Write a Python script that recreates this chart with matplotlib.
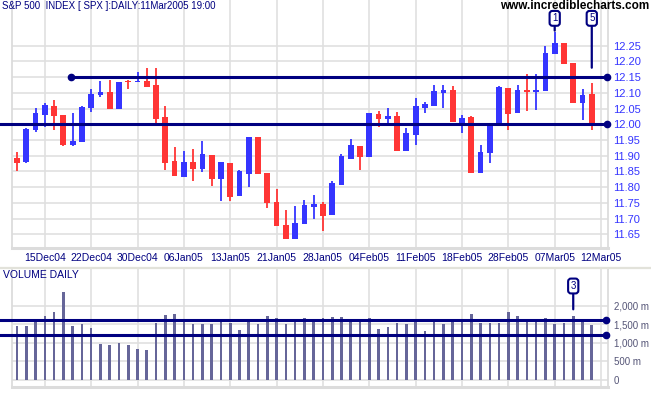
import numpy as np
import matplotlib.pyplot as plt

plt.rcParams['font.family'] = ['Liberation Sans', 'DejaVu Sans']

# S&P 500 daily, 10 Dec 2004 - 11 Mar 2005 (index / 100)
opens = [11.893, 11.879, 11.982, 12.031, 12.059, 12.031, 11.935, 11.945, 12.051, 12.092,
         12.103, 12.048, 12.139, 12.134, 12.139,
         12.125, 12.022, 11.882, 11.833, 11.881, 11.859, 11.902, 11.826, 11.877, 11.773,
         11.843, 11.960, 11.845, 11.754, 11.679, 11.636, 11.684, 11.738, 11.746, 11.711,
         11.807, 11.890, 11.931, 11.897, 12.033, 12.016, 12.026, 11.916, 11.966, 12.053,
         12.058, 12.101, 12.110, 12.003, 12.022, 11.844, 11.908, 12.001, 12.115,
         12.037, 12.109, 12.103, 12.107, 12.225, 12.258, 12.194, 12.069, 12.096]
highs = [11.913, 11.987, 12.053, 12.067, 12.077, 12.031, 12.035, 12.057, 12.113, 12.137,
         12.141, 12.136, 12.141, 12.167, 12.178,
         12.178, 12.059, 11.928, 11.915, 11.921, 11.947, 11.902, 11.880, 11.877, 11.854,
         11.960, 11.960, 11.845, 11.794, 11.727, 11.740, 11.759, 11.775, 11.754, 11.820,
         11.905, 11.953, 11.931, 12.035, 12.042, 12.051, 12.038, 11.987, 12.084, 12.071,
         12.125, 12.125, 12.123, 12.030, 12.025, 11.934, 12.003, 12.123, 12.115,
         12.125, 12.160, 12.160, 12.249, 12.295, 12.258, 12.194, 12.112, 12.132]
lows = [11.851, 11.878, 11.977, 11.993, 11.983, 11.932, 11.932, 11.945, 12.038, 12.086,
        12.048, 12.048, 12.111, 12.134, 12.120,
        12.003, 11.855, 11.836, 11.833, 11.821, 11.849, 11.804, 11.757, 11.757, 11.773,
        11.801, 11.843, 11.735, 11.677, 11.636, 11.636, 11.684, 11.700, 11.662, 11.711,
        11.807, 11.890, 11.855, 11.897, 11.992, 12.003, 11.916, 11.916, 11.934, 12.037,
        12.058, 12.053, 12.008, 11.973, 11.844, 11.844, 11.878, 12.001, 11.982,
        12.037, 12.043, 12.046, 12.107, 12.225, 12.192, 12.069, 12.014, 11.982]
closes = [11.876, 11.986, 12.037, 12.060, 12.028, 11.935, 11.948, 12.055, 12.097, 12.104,
          12.048, 12.136, 12.135, 12.139, 12.120,
          12.017, 11.878, 11.836, 11.879, 11.859, 11.906, 11.826, 11.880, 11.770, 11.850,
          11.960, 11.843, 11.751, 11.677, 11.636, 11.686, 11.742, 11.746, 11.708, 11.812,
          11.900, 11.934, 11.897, 12.035, 12.016, 12.026, 11.916, 11.972, 12.058, 12.065,
          12.106, 12.109, 12.008, 12.019, 11.844, 11.911, 12.003, 12.120, 12.033,
          12.109, 12.102, 12.109, 12.226, 12.258, 12.192, 12.069, 12.093, 12.000]
volumes = [1452, 1452, 1559, 1720, 1828, 2365, 1452, 1505, 1398, 968, 941, 995, 941, 833, 806,
           1532, 1747, 1774, 1613, 1505, 1505, 1505, 1613, 1532, 1344, 1613, 1505, 1720, 1667,
           1505, 1640, 1667, 1613, 1667, 1693,
           1693, 1604, 1604, 1667, 1371, 1425, 1541, 1514, 1613, 1326, 1568, 1514, 1613, 1568,
           1774, 1541, 1541, 1541, 1828,
           1720, 1613, 1640, 1667, 1514, 1541, 1720, 1613, 1478]

tick_pos = [3, 8, 13, 18, 23, 28, 33, 38, 43, 48, 53, 58, 63]
tick_labels = ['15Dec04', '22Dec04', '30Dec04', '06Jan05', '13Jan05', '21Jan05', '28Jan05',
               '04Feb05', '11Feb05', '18Feb05', '28Feb05', '07Mar05', '12Mar05']
price_ticks = [11.65, 11.70, 11.75, 11.80, 11.85, 11.90, 11.95, 12.00, 12.05, 12.10, 12.15, 12.20, 12.25]
vol_ticks = [0, 500, 1000, 1500, 2000]
vol_tick_labels = ['0', '500 m', '1,000 m', '1,500 m', '2,000 m']

price_levels = [12.15, 12.00]
level_starts = [5.85, -1.85]
volume_levels = [1605, 1210]

BLUE = '#3535ff'
RED = '#ff3535'
NAVY = '#000080'
GRID = '#e0e0e0'

W, H = 651, 395
fig = plt.figure(figsize=(W / 100, H / 100), dpi=100)
ax = fig.add_axes([12 / W, 1 - 247.7 / H, 596 / W, 247.7 / H])
axv = fig.add_axes([12 / W, 8.3 / H, 596 / W, 118.7 / H])

x = np.arange(len(closes))
o = np.array(opens)
c = np.array(closes)
up = c >= o
cols = np.where(up, BLUE, RED)

# candles
ax.vlines(x, lows, highs, colors=cols, lw=1.3, zorder=3)
body = np.maximum(np.abs(c - o), 0.002)
ax.bar(x, body, bottom=np.minimum(o, c), width=0.62, color=cols, zorder=3)

for lev, st in zip(price_levels, level_starts):
    ax.plot([st, 63.6], [lev, lev], color=NAVY, lw=2.2, clip_on=False, zorder=4)
    ax.plot([63.6], [lev], 'o', color=NAVY, ms=4.5, clip_on=False, zorder=4)
ax.plot([level_starts[0]], [price_levels[0]], 'o', color=NAVY, ms=4.5, zorder=4)

box = dict(boxstyle='round,pad=0.25,rounding_size=0.3', fc='white', ec=NAVY, lw=1.5)
arrow = dict(arrowstyle='-', color=NAVY, lw=1.6, shrinkA=0, shrinkB=0)
ax.annotate('1', xy=(58, 12.298), xytext=(58, 12.337), ha='center', va='center',
            fontsize=7, color=NAVY, bbox=box, arrowprops=arrow, zorder=5)
ax.annotate('5', xy=(62, 12.180), xytext=(62, 12.337), ha='center', va='center',
            fontsize=7, color=NAVY, bbox=box, arrowprops=arrow, zorder=5)

ax.set_xlim(-0.54, 63.75)
ax.set_ylim(11.6075, 12.3954)
ax.set_xticks(tick_pos)
ax.set_xticklabels(tick_labels)
ax.set_yticks(price_ticks)
ax.set_yticklabels(['%.2f' % v for v in price_ticks])
ax.yaxis.tick_right()
ax.tick_params(axis='y', length=0, pad=4, labelsize=8, labelcolor=BLUE)
ax.tick_params(axis='x', length=0, pad=4, labelsize=7.5, labelcolor=NAVY)
ax.grid(True, color=GRID, lw=1.2, zorder=0)
ax.set_axisbelow(True)

# volume
axv.bar(x, volumes, width=0.28, color='#666699', zorder=3)
for lev in volume_levels:
    axv.plot([-1.85, 63.5], [lev, lev], color=NAVY, lw=2.2, clip_on=False, zorder=4)
    axv.plot([63.5], [lev], 'o', color=NAVY, ms=4.5, clip_on=False, zorder=4)
axv.annotate('3', xy=(60, 1900), xytext=(60, 2527), ha='center', va='center',
             fontsize=7, color=NAVY, bbox=box, arrowprops=arrow, zorder=5)
axv.set_xlim(-0.54, 63.75)
axv.set_ylim(-180, 3011)
axv.set_xticks(tick_pos)
axv.set_xticklabels([])
axv.set_yticks(vol_ticks)
axv.set_yticklabels(vol_tick_labels)
axv.yaxis.tick_right()
axv.tick_params(axis='y', length=0, pad=4, labelsize=7, labelcolor='#555577')
axv.tick_params(axis='x', length=0)
axv.grid(True, color=GRID, lw=1.2, zorder=0)
axv.set_axisbelow(True)

for a in (ax, axv):
    a.spines['top'].set_visible(False)
    for s in ('left', 'right', 'bottom'):
        a.spines[s].set_color('#dcdcdc')
        a.spines[s].set_linewidth(1.3)
    a.spines['bottom'].set_linewidth(2.2)

fig.add_artist(plt.Line2D([0, 1], [1 - 268 / H, 1 - 268 / H], color='#e2e2da', lw=1.6))

fig.text(2 / W, 1 - 6 / H, 'S&P 500  INDEX [ SPX ]:DAILY:11Mar2005 19:00',
         fontsize=7, color=NAVY, va='center', ha='left')
fig.text(649 / W, 1 - 6 / H, 'www.incrediblecharts.com', fontsize=8.5, fontweight='bold',
         color='black', va='center', ha='right')
fig.text(3 / W, 1 - 275 / H, 'VOLUME DAILY', fontsize=7.5, color=NAVY, va='center', ha='left')

fig.savefig('out.png', dpi=100)
